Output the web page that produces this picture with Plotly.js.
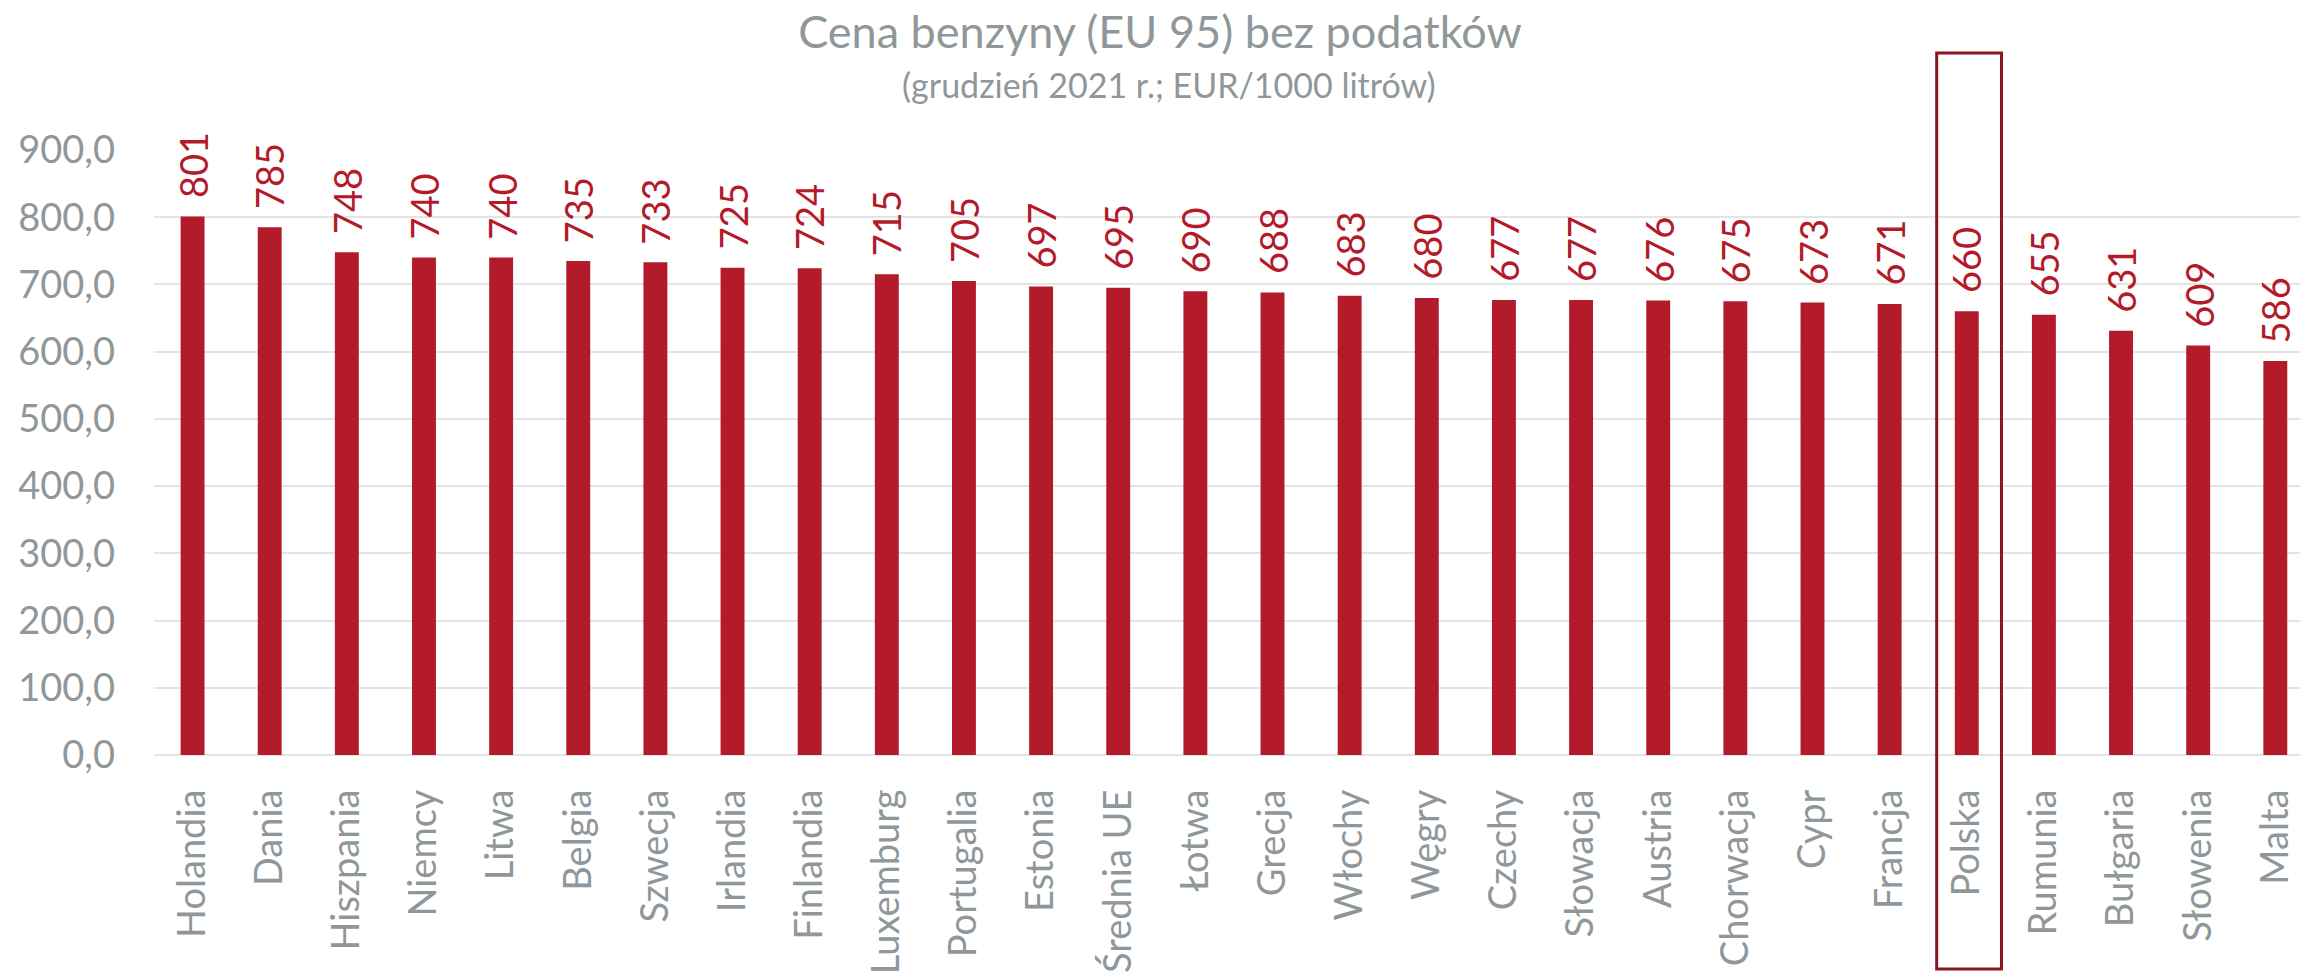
<!DOCTYPE html>
<html>
<head>
<meta charset="utf-8">
<script src="https://cdn.plot.ly/plotly-3.0.1.min.js"></script>
<style>
html,body{margin:0;padding:0;background:#fff;}
#chart{width:2300px;height:974px;}
</style>
</head>
<body>
<div id="chart"></div>
<script>
var countries = ["Holandia","Dania","Hiszpania","Niemcy","Litwa","Belgia","Szwecja","Irlandia","Finlandia","Luxemburg","Portugalia","Estonia","Średnia UE","Łotwa","Grecja","Włochy","Węgry","Czechy","Słowacja","Austria","Chorwacja","Cypr","Francja","Polska","Rumunia","Bułgaria","Słowenia","Malta"];
var prices = [801,785,748,740,740,735,733,725,724,715,705,697,695,690,688,683,680,677,677,676,675,673,671,660,655,631,609,586];
var highlighted = "Polska";
var yTicks = [0,100,200,300,400,500,600,700,800,900];

var BAR = '#B31A2A';
var GREY = '#8F979A';
var FONT = 'Lato, "Open Sans", sans-serif';

var W = 2300, H = 974;
var mL = 154, mR = 0, mT = 150, mB = 219;
var xMax = 27.32;
var plotW = W - mL - mR, plotH = H - mT - mB;

function xToPaper(v){ return (v + 0.5) / (xMax + 0.5); }

var annotations = countries.map(function(c, i){
  return {
    x: c, y: prices[i], xref: 'x', yref: 'y',
    text: String(prices[i]), showarrow: false,
    textangle: -90, xanchor: 'center', yanchor: 'bottom', yshift: 16,
    font: {family: FONT, size: 38, color: BAR}
  };
});
annotations.push({
  xref: 'paper', yref: 'paper',
  x: (1169 - mL) / plotW, y: ((H - mB) - 85) / plotH,
  xanchor: 'center', yanchor: 'middle', showarrow: false,
  text: '(grudzień 2021 r.; EUR/1000 litrów)',
  font: {family: FONT, size: 34, color: GREY}
});

var hi = countries.indexOf(highlighted);

var data = [{
  type: 'bar', x: countries, y: prices,
  marker: {color: BAR, line: {width: 0}},
  hoverinfo: 'x+y'
}];

var layout = {
  width: W, height: H,
  margin: {l: mL, r: mR, t: mT, b: mB, pad: 0},
  paper_bgcolor: '#fff', plot_bgcolor: '#fff',
  bargap: 0.69,
  showlegend: false,
  separators: ', ',
  title: {
    text: 'Cena benzyny (EU 95) bez podatków',
    font: {family: FONT, size: 45, color: GREY},
    x: 1160/W, xanchor: 'center', xref: 'container',
    y: 1 - 32/H, yanchor: 'middle', yref: 'container'
  },
  xaxis: {
    type: 'category', range: [-0.5, xMax],
    tickangle: -90, ticks: '', showgrid: false, zeroline: false,
    showline: false, ticklabelstandoff: 26,
    tickfont: {family: FONT, size: 38, color: GREY}
  },
  yaxis: {
    range: [0, 900], tickvals: yTicks, tickformat: '.1f',
    showgrid: true, gridcolor: '#E4E4E4', gridwidth: 2,
    zeroline: true, zerolinecolor: '#E4E4E4', zerolinewidth: 2,
    showline: false, ticks: '', ticklabelstandoff: 38,
    tickfont: {family: FONT, size: 38, color: GREY}
  },
  annotations: annotations,
  shapes: [{
    type: 'rect', xref: 'paper', yref: 'paper',
    x0: xToPaper(hi - 0.39), x1: xToPaper(hi + 0.45),
    y0: ((H - mB) - 969) / plotH, y1: ((H - mB) - 53) / plotH,
    line: {color: '#8A1620', width: 3}, fillcolor: 'rgba(0,0,0,0)', layer: 'above'
  }]
};

Plotly.newPlot('chart', data, layout, {displayModeBar: false, staticPlot: true});
</script>
</body>
</html>
